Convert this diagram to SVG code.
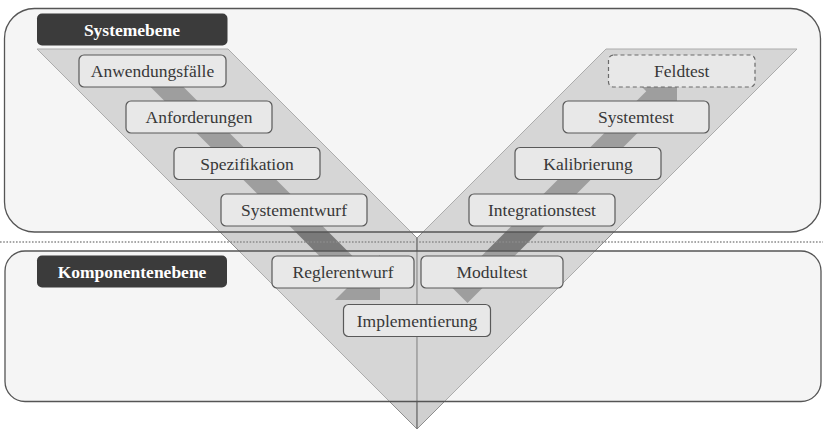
<svg xmlns="http://www.w3.org/2000/svg" width="823" height="430" viewBox="0 0 823 430">
<style>
.band{fill:#d0d0d0;stroke:#8f8f8f;stroke-width:1}
.shaft{fill:#7a7a7a}
.panel{fill:#e3e3e3;fill-opacity:0.35;stroke:#555;stroke-width:1.3}
.box{fill:#e8e8e8;stroke:#595959;stroke-width:1.2}
.dash{stroke-dasharray:4 3;stroke:#6a6a6a}
.lbl{font-family:'Liberation Serif','DejaVu Serif',serif;font-size:17.5px;fill:#383838;text-anchor:middle}
.hdr{fill:#3b3b3b}
.hdrt{font-family:'Liberation Serif','DejaVu Serif',serif;font-size:17.5px;font-weight:bold;fill:#fff;text-anchor:middle}
</style>
<rect width="823" height="430" fill="#fff"/>
<g id="vshape">
<polygon class="band" points="37,49 228,49 417,238 417,429"/>
<polygon class="band" points="606,49 797,49 417,429 417,238"/>
<line x1="417" y1="238" x2="417" y2="429" stroke="#707070" stroke-width="1"/>
</g>
<g id="connectors">
<polygon class="shaft" points="143.75,80.25 160.25,63.75 365.75,269.25 380,255 380,300 335,300 349.25,285.75"/>
<polygon class="shaft" points="451,286.5 646.25,91.25 632,77 677,77 677,122 662.75,107.75 467.5,303"/>
</g>
<g id="panels">
<rect class="panel" x="4.5" y="8.5" width="816" height="223.5" rx="30" ry="30"/>
<rect class="panel" x="5" y="251" width="816" height="150.5" rx="20" ry="20"/>
<line x1="0" y1="242" x2="823" y2="242" stroke="#8a8a8a" stroke-width="1.6" stroke-dasharray="1.6 1.6"/>
</g>
<g id="systemebene">
<rect class="hdr" x="37" y="13.5" width="190.5" height="32" rx="5"/>
<text class="hdrt" x="132" y="36" font-family="Liberation Serif, serif">Systemebene</text>
</g>
<g id="komponentenebene">
<rect class="hdr" x="37" y="255.5" width="190" height="32" rx="5"/>
<text class="hdrt" x="132" y="278" font-family="Liberation Serif, serif">Komponentenebene</text>
</g>
<g id="anwendungsfaelle">
<rect class="box" x="79" y="55" width="147" height="32" rx="5"/>
<text class="lbl" x="152.5" y="77">Anwendungsfälle</text>
</g>
<g id="anforderungen">
<rect class="box" x="126" y="101" width="146" height="32" rx="5"/>
<text class="lbl" x="199" y="123">Anforderungen</text>
</g>
<g id="spezifikation">
<rect class="box" x="174" y="147.5" width="146" height="32" rx="5"/>
<text class="lbl" x="247" y="169.5">Spezifikation</text>
</g>
<g id="systementwurf">
<rect class="box" x="221" y="194" width="146" height="32" rx="5"/>
<text class="lbl" x="294" y="216">Systementwurf</text>
</g>
<g id="reglerentwurf">
<rect class="box" x="272" y="256" width="142" height="32" rx="5"/>
<text class="lbl" x="343" y="278">Reglerentwurf</text>
</g>
<g id="implementierung">
<rect class="box" x="343.5" y="304.5" width="147" height="32" rx="5"/>
<text class="lbl" x="417" y="326.5">Implementierung</text>
</g>
<g id="modultest">
<rect class="box" x="421" y="256" width="142" height="32" rx="5"/>
<text class="lbl" x="492" y="278">Modultest</text>
</g>
<g id="integrationstest">
<rect class="box" x="469" y="194" width="146" height="32" rx="5"/>
<text class="lbl" x="542" y="216">Integrationstest</text>
</g>
<g id="kalibrierung">
<rect class="box" x="515" y="147.5" width="146" height="32" rx="5"/>
<text class="lbl" x="588" y="169.5">Kalibrierung</text>
</g>
<g id="systemtest">
<rect class="box" x="563" y="101" width="146" height="32" rx="5"/>
<text class="lbl" x="636" y="123">Systemtest</text>
</g>
<g id="feldtest">
<rect class="box dash" x="608.5" y="55" width="146.5" height="32" rx="5"/>
<text class="lbl" x="681.75" y="77">Feldtest</text>
</g>
</svg>
